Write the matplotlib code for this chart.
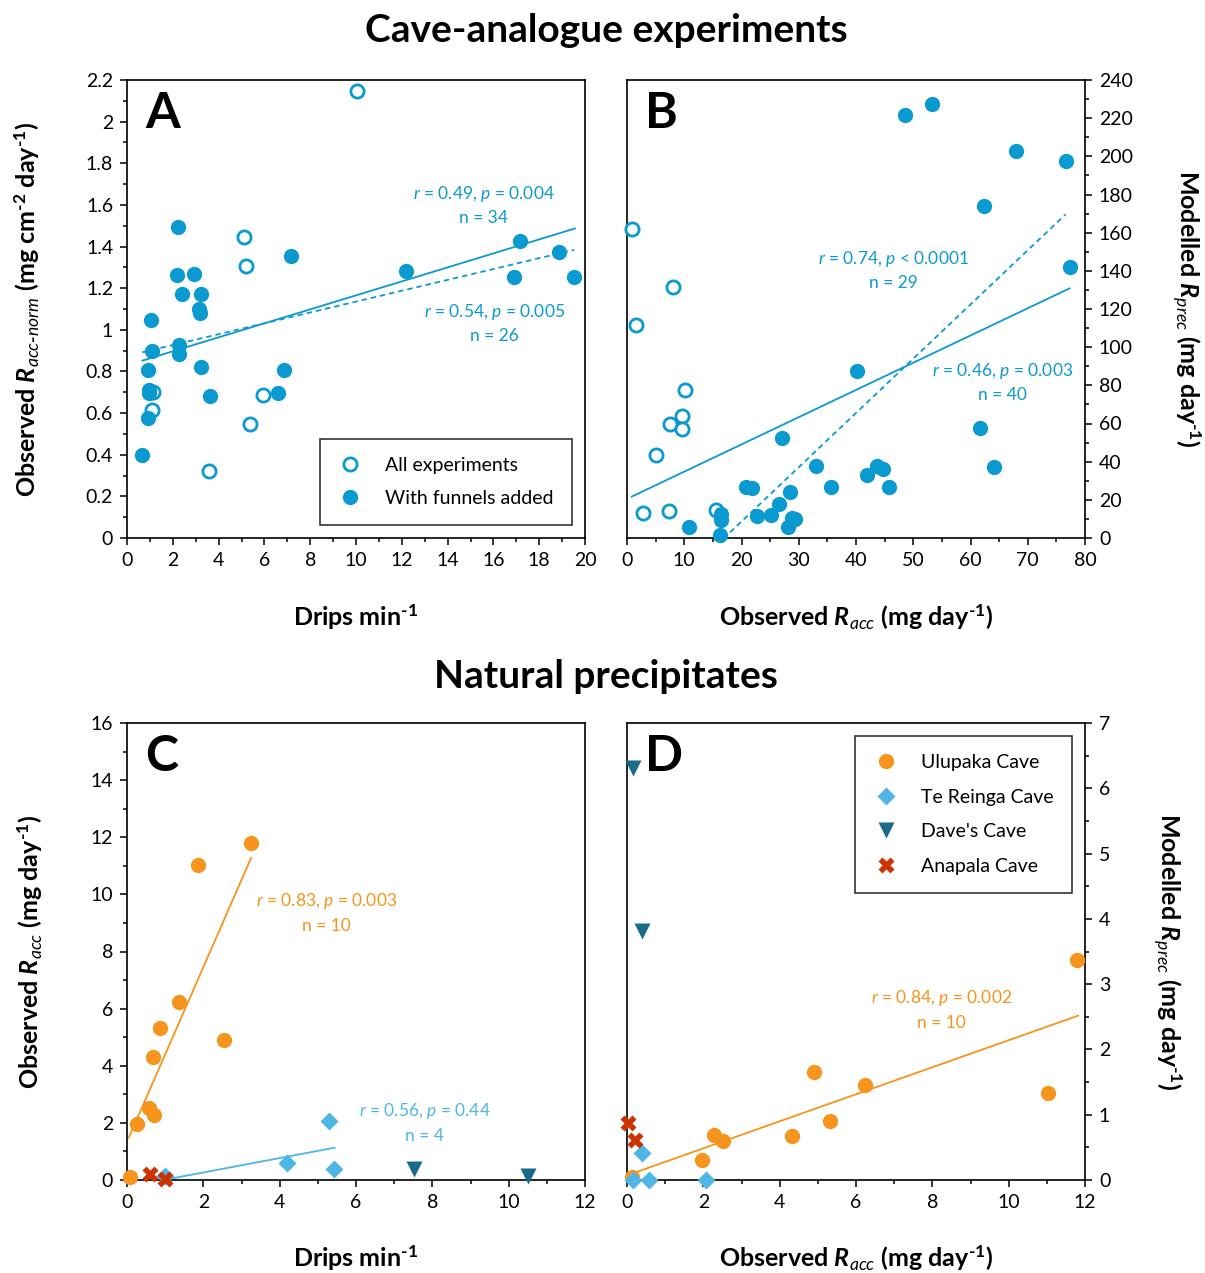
import numpy as np
import matplotlib
matplotlib.use("Agg")
import matplotlib.pyplot as plt
from matplotlib.ticker import MultipleLocator, FuncFormatter
from matplotlib.lines import Line2D

plt.rcParams['font.family'] = ['Lato', 'DejaVu Sans']
plt.rcParams['mathtext.fontset'] = 'custom'
plt.rcParams['mathtext.rm'] = 'Lato:bold'
plt.rcParams['mathtext.it'] = 'Lato:italic'
plt.rcParams['mathtext.bf'] = 'Lato:bold'
plt.rcParams['mathtext.bfit'] = 'Lato:bold:italic'

# ---- Panel A: drips vs normalised accumulation rate ----
a_open_drips = [10.04, 5.12, 5.19, 1.15, 1.09, 5.92, 5.37, 3.56]
a_open_racc = [2.147, 1.444, 1.306, 0.703, 0.613, 0.685, 0.549, 0.322]
a_fun_drips = [2.23, 7.18, 2.20, 2.92, 2.38, 3.25, 3.15, 3.20, 1.05, 12.2, 17.14, 18.86,
               16.91, 19.53, 1.11, 2.28, 2.25, 0.92, 3.21, 6.87, 0.98, 6.61, 3.63,
               0.92, 0.67, 0.95]
a_fun_racc = [1.495, 1.354, 1.263, 1.266, 1.170, 1.173, 1.10, 1.08, 1.045, 1.284, 1.427,
              1.374, 1.252, 1.252, 0.898, 0.927, 0.885, 0.809, 0.820, 0.805, 0.695,
              0.698, 0.682, 0.578, 0.400, 0.71]
# fits: slope, intercept, x range
fit_a_all = (0.0336, 0.8295, [0.67, 19.56])
fit_a_fun = (0.0261, 0.8745, [0.67, 19.53])

# ---- Panel B: observed vs modelled rate ----
b_open_obs = [0.82, 8.09, 1.57, 10.13, 9.61, 7.51, 9.61, 5.12, 2.85, 7.28, 15.6]
b_open_mod = [162.1, 131.4, 111.8, 77.4, 63.9, 59.9, 57.1, 43.7, 13.3, 14.2, 14.7]
b_fun_obs = [48.5, 53.3, 67.9, 76.6, 62.3, 77.3, 40.2, 27.1, 61.7, 64.1, 33.1, 41.9,
             43.7, 44.8, 35.7, 45.8, 20.7, 21.9, 28.5, 26.5, 25.2, 22.7, 28.8, 29.3,
             28.1, 16.4, 16.4, 10.8, 16.2]
b_fun_mod = [221.7, 227.5, 202.7, 197.4, 173.8, 142.2, 87.5, 52.6, 57.5, 37.1, 37.6,
             33.2, 37.9, 36.2, 26.9, 26.6, 26.6, 26.0, 24.1, 17.8, 12.1, 11.5, 10.7,
             9.8, 5.6, 12.6, 9.4, 5.6, 1.4]
fit_b_all = (1.427, 20.5, [0.82, 77.3])
fit_b_fun = (2.843, -48.2, [18.0, 76.6])

# ---- Panels C and D: natural precipitates ----
caves = ['Ulupaka Cave', 'Te Reinga Cave', "Dave's Cave", 'Anapala Cave']
drips = {
    'Ulupaka Cave': [0.08, 0.27, 0.70, 0.58, 0.67, 2.54, 0.87, 1.35, 1.85, 3.24],
    'Te Reinga Cave': [1.0, 4.18, 5.28, 5.42],
    "Dave's Cave": [10.51, 7.52],
    'Anapala Cave': [1.0, 0.59],
}
racc = {
    'Ulupaka Cave': [0.12, 1.96, 2.28, 2.51, 4.32, 4.89, 5.32, 6.24, 11.04, 11.80],
    'Te Reinga Cave': [0.15, 0.58, 2.08, 0.38],
    "Dave's Cave": [0.15, 0.38],
    'Anapala Cave': [0.02, 0.22],
}
rprec = {
    'Ulupaka Cave': [0.05, 0.31, 0.69, 0.59, 0.68, 1.66, 0.90, 1.46, 1.33, 3.37],
    'Te Reinga Cave': [0.0, 0.0, 0.0, 0.41],
    "Dave's Cave": [6.31, 3.82],
    'Anapala Cave': [0.87, 0.62],
}
fit_c_ulu = (3.056, 1.34, [0.05, 3.25])
fit_c_ter = (0.252, -0.24, [1.04, 5.44])
fit_d_ulu = (0.207, 0.071, [0.14, 11.82])

blue = '#0a9ad0'
colors = {'Ulupaka Cave': '#f7941d', 'Te Reinga Cave': '#4db6e4',
          "Dave's Cave": '#1a6a8a', 'Anapala Cave': '#cc3300'}
markers = {'Ulupaka Cave': ('o', 11), 'Te Reinga Cave': ('D', 9),
           "Dave's Cave": ('v', 11), 'Anapala Cave': ('X', 12)}

fig = plt.figure(figsize=(12.05, 12.73), dpi=100)
W, H = 1205, 1273


def make_ax(l, t, r, b):
    return fig.add_axes([l / W, 1 - b / H, (r - l) / W, (b - t) / H])


axA = make_ax(127, 80, 585, 538)
axB = make_ax(627, 80, 1085, 538)
axC = make_ax(127, 723, 585, 1180)
axD = make_ax(627, 723, 1085, 1180)

fmt = FuncFormatter(lambda v, p: f'{v:g}')
inv = '$^{\\text{-}1}$'
LBL = 18


def style(ax, xlim, ylim, xmaj, xmin, ymaj, ymin, right=False):
    ax.set_xlim(*xlim)
    ax.set_ylim(*ylim)
    ax.xaxis.set_major_locator(MultipleLocator(xmaj))
    ax.xaxis.set_minor_locator(MultipleLocator(xmin))
    ax.yaxis.set_major_locator(MultipleLocator(ymaj))
    ax.yaxis.set_minor_locator(MultipleLocator(ymin))
    ax.xaxis.set_major_formatter(fmt)
    ax.yaxis.set_major_formatter(fmt)
    for s in ax.spines.values():
        s.set_linewidth(1.2)
    if right:
        ax.yaxis.tick_right()
        ax.yaxis.set_label_position('right')
    ax.tick_params(which='major', direction='out', length=5, width=1.1,
                   labelsize=14, pad=5)
    ax.tick_params(which='minor', direction='out', length=3, width=1.1)


def labels(ax, xl, yl, xy, yx, right=False):
    ax.set_xlabel(xl, fontsize=LBL, fontweight='bold')
    if right:
        ax.set_ylabel(yl, fontsize=LBL, fontweight='bold', rotation=270)
    else:
        ax.set_ylabel(yl, fontsize=LBL, fontweight='bold')
    ax.xaxis.label.set_va('center')
    ax.yaxis.label.set_va('center')
    ax.xaxis.set_label_coords(0.5, xy)
    ax.yaxis.set_label_coords(yx, 0.5)


def fit_line(ax, fit, color, ls='-'):
    m, c, xr = fit
    xr = np.array(xr)
    ax.plot(xr, m * xr + c, color=color, lw=1.3, ls=ls, zorder=2)


def stat_text(ax, x, y, r, p, n, color, rel='='):
    ax.text(x, y, f'$\\mathit{{r}}$ = {r}, $\\mathit{{p}}$ {rel} {p}\nn = {n}',
            ha='center', va='center', color=color, fontsize=12.5, linespacing=1.5)


def letter(ax, s):
    ax.text(0.04, 0.975, s, transform=ax.transAxes, fontsize=36,
            fontweight='bold', va='top', ha='left')


def box_legend(ax, handles, names, loc, anchor, spacing):
    leg = ax.legend(handles, names, loc=loc, bbox_to_anchor=anchor, fontsize=14,
                    frameon=True, fancybox=False, edgecolor='black',
                    borderpad=0.95, labelspacing=spacing, handlelength=1.2,
                    handletextpad=1.2, borderaxespad=0)
    leg.get_frame().set_linewidth(1.2)
    return leg


# Panel A
style(axA, (0, 20), (0, 2.2), 2, 1, 0.2, 0.1)
fit_line(axA, fit_a_all, blue)
fit_line(axA, fit_a_fun, blue, ls=(0, (3, 2.2)))
axA.plot(a_open_drips, a_open_racc, 'o', ms=9.5, mfc='white', mec=blue, mew=2,
         clip_on=False, zorder=3)
axA.plot(a_fun_drips, a_fun_racc, 'o', ms=11, color=blue, mec='none',
         clip_on=False, zorder=3)
stat_text(axA, 15.57, 1.60, '0.49', '0.004', 34, blue)
stat_text(axA, 16.03, 1.033, '0.54', '0.005', 26, blue)
letter(axA, 'A')
hA = [Line2D([], [], ls='none', marker='o', ms=9.5, mfc='white', mec=blue, mew=2),
      Line2D([], [], ls='none', marker='o', ms=11, color=blue, mec='none')]
box_legend(axA, hA, ['All experiments', 'With funnels added'], 'lower right',
           (0.971, 0.028), 0.8)
labels(axA, 'Drips min' + inv,
       'Observed $\\mathbfit{R}_{\\mathit{acc\\text{-}norm}}$ (mg cm$^{\\text{-}2}$ day' + inv + ')',
       -0.172, -0.218)

# Panel B
style(axB, (0, 80), (0, 240), 10, 5, 20, 10, right=True)
axB.tick_params(axis='y', which='both', left=False)
fit_line(axB, fit_b_all, blue)
fit_line(axB, fit_b_fun, blue, ls=(0, (3, 2.2)))
axB.plot(b_open_obs, b_open_mod, 'o', ms=9.5, mfc='white', mec=blue, mew=2,
         clip_on=False, zorder=3)
axB.plot(b_fun_obs, b_fun_mod, 'o', ms=11, color=blue, mec='none',
         clip_on=False, zorder=3)
stat_text(axB, 46.5, 140.5, '0.74', '0.0001', 29, blue, rel='<')
stat_text(axB, 65.6, 81.8, '0.46', '0.003', 40, blue)
letter(axB, 'B')
labels(axB, 'Observed $\\mathbfit{R}_{\\mathit{acc}}$ (mg day' + inv + ')',
       'Modelled $\\mathbfit{R}_{\\mathit{prec}}$ (mg day' + inv + ')',
       -0.172, 1.222, right=True)

# Panel C
style(axC, (0, 12), (0, 16), 2, 1, 2, 1)
fit_line(axC, fit_c_ulu, colors['Ulupaka Cave'])
fit_line(axC, fit_c_ter, colors['Te Reinga Cave'])
for cave in caves:
    m, ms = markers[cave]
    axC.plot(drips[cave], racc[cave], ls='none', marker=m, ms=ms,
             color=colors[cave], mec='none', clip_on=False, zorder=3)
stat_text(axC, 5.22, 9.36, '0.83', '0.003', 10, colors['Ulupaka Cave'])
stat_text(axC, 7.80, 2.01, '0.56', '0.44', 4, colors['Te Reinga Cave'])
letter(axC, 'C')
labels(axC, 'Drips min' + inv,
       'Observed $\\mathbfit{R}_{\\mathit{acc}}$ (mg day' + inv + ')',
       -0.171, -0.212)

# Panel D
style(axD, (0, 12), (0, 7), 2, 1, 1, 0.5, right=True)
axD.tick_params(axis='y', which='both', left=False)
fit_line(axD, fit_d_ulu, colors['Ulupaka Cave'])
hD = []
for cave in caves:
    m, ms = markers[cave]
    axD.plot(racc[cave], rprec[cave], ls='none', marker=m, ms=ms,
             color=colors[cave], mec='none', clip_on=False, zorder=3)
    hD.append(Line2D([], [], ls='none', marker=m, ms=ms, color=colors[cave], mec='none'))
stat_text(axD, 8.24, 2.61, '0.84', '0.002', 10, colors['Ulupaka Cave'])
letter(axD, 'D')
box_legend(axD, hD, caves, 'upper right', (0.971, 0.972), 0.9)
labels(axD, 'Observed $\\mathbfit{R}_{\\mathit{acc}}$ (mg day' + inv + ')',
       'Modelled $\\mathbfit{R}_{\\mathit{prec}}$ (mg day' + inv + ')',
       -0.171, 1.18, right=True)

fig.text(606 / W, 1 - 30 / H, 'Cave-analogue experiments', ha='center', va='center',
         fontsize=28, fontweight='bold')
fig.text(606 / W, 1 - 677 / H, 'Natural precipitates', ha='center', va='center',
         fontsize=28, fontweight='bold')

fig.savefig('out.png', dpi=100)
